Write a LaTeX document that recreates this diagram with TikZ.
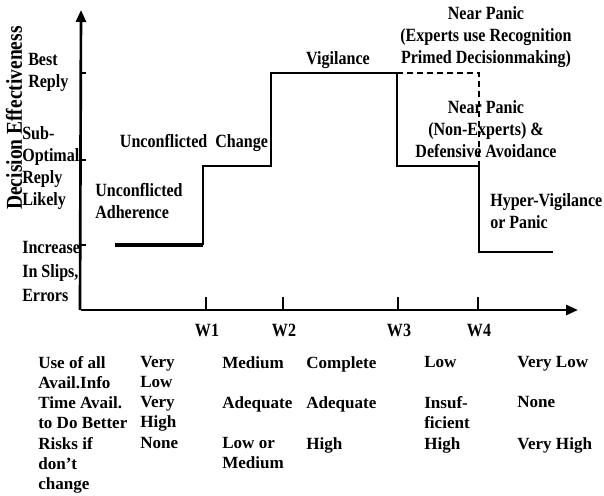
\documentclass[tikz,border=0pt]{standalone}
\usepackage{fontspec}
\setmainfont{Liberation Serif}
\newfontfamily\narrowfont[FakeStretch=0.86]{Liberation Serif}
\usetikzlibrary{arrows.meta, positioning}

\begin{document}
\begin{tikzpicture}[x=0.75pt, y=-0.75pt,
		lbl/.style={inner sep=0pt, font=\narrowfont\bfseries\fontsize{14}{16.5}\selectfont},
		cell/.style={inner sep=0pt, anchor=north west, align=left, font=\bfseries\fontsize{12.8}{15}\selectfont},
		axis/.style={line width=2pt, -{Triangle[length=9pt, width=7.5pt]}},
		steps/.style={line width=1.7pt}]
			\useasboundingbox (0,0) rectangle (604,496);
			
			% Draw Axes
			\coordinate (origin) at (81,310);
			\coordinate (ytop) at (81,10);
			\coordinate (xend) at (578,310);
			\draw[axis] (80,310) -- (ytop);
			\draw[axis] (origin) -- (xend);
			\foreach \y in {73,160,245}
				\draw[line width=1.5pt] (81,\y) -- (86,\y);
			\foreach \x/\w in {206/1, 283/2, 398/3, 478/4}{
				\draw[line width=1.5pt] (\x,310) -- (\x,297);
				\node[lbl] (w\w) at (\x+1,330) {W\w};
			}
			
			% Axis Labels
			\node[lbl, rotate=90, font=\narrowfont\bfseries\fontsize{17}{20}\selectfont] (effect) at (14,118) {Decision Effectiveness};
			\node[lbl, anchor=north west, align=left] (best) at (28,53) {Best\\Reply};
			\node[lbl, anchor=north west, align=left] (subopt) at (22,126) {Sub-\\Optimal\\Reply\\Likely};
			\node[lbl, anchor=north west, align=left, font=\narrowfont\bfseries\fontsize{14}{18}\selectfont] (slips) at (22,241) {Increase\\In Slips,\\Errors};
			
			% Draw Steps
			\draw[line width=3pt] (115,245) -- (203,245);
			\draw[steps] (203,245) -- (203,166) -- (271,166) -- (271,73) -- (397,73) -- (397,166) -- (479,166) -- (479,252) -- (553,252);
			\draw[steps, dash pattern=on 4.5pt off 3pt] (397,73) -- (479,73) -- (479,166);
			
			% Step Labels
			\node[lbl, anchor=north west, align=left] (adhere) at (95,183) {Unconflicted\\Adherence};
			\node[lbl] (change) at (194,143) {Unconflicted\ \ Change};
			\node[lbl] (vigil) at (338,60) {Vigilance};
			\node[lbl, anchor=north, align=center] (expert) at (486,6) {Near Panic\\(Experts use Recognition\\Primed Decisionmaking)};
			\node[lbl, anchor=north, align=center] (defense) at (486,100) {Near Panic\\(Non-Experts) \&\\Defensive Avoidance};
			\node[lbl, anchor=north west, align=left] (hyper) at (490,193) {Hyper-Vigilance\\or Panic};
			
			% Table Below
			\node[cell] (info) at (38,356) {Use of all\\Avail.Info};
			\node[cell] (info1) at (140,356) {Very\\Low};
			\node[cell] (info2) at (222,356) {Medium};
			\node[cell] (info3) at (306,356) {Complete};
			\node[cell] (info4) at (424,356) {Low};
			\node[cell] (info5) at (517,356) {Very Low};
			
			\node[cell] (time) at (38,396) {Time Avail.\\to Do Better};
			\node[cell] (time1) at (140,396) {Very\\High};
			\node[cell] (time2) at (222,396) {Adequate};
			\node[cell] (time3) at (306,396) {Adequate};
			\node[cell] (time4) at (424,396) {Insuf-\\ficient};
			\node[cell] (time5) at (517,396) {None};
			
			\node[cell] (risk) at (38,437) {Risks if\\don't\\change};
			\node[cell] (risk1) at (140,437) {None};
			\node[cell] (risk2) at (222,437) {Low or\\Medium};
			\node[cell] (risk3) at (306,437) {High};
			\node[cell] (risk4) at (424,437) {High};
			\node[cell] (risk5) at (517,437) {Very High};
		\end{tikzpicture}
\end{document}
